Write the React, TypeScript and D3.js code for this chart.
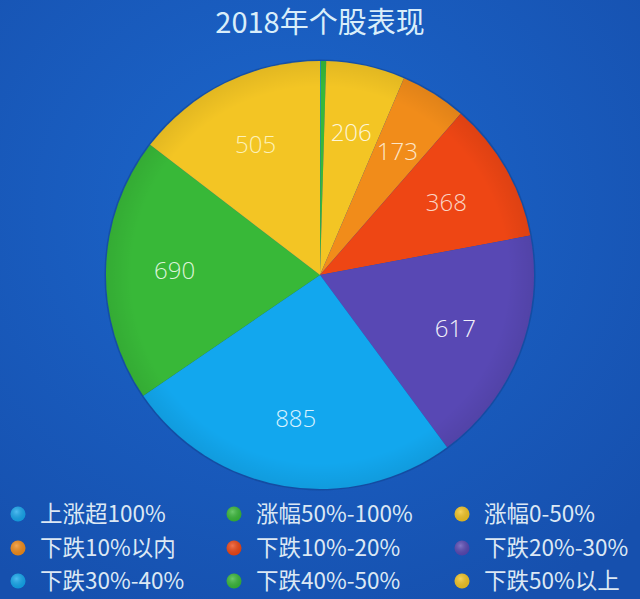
import * as d3 from 'd3'

// 2018 A-share performance buckets (stock counts)
const categories = [
  '上涨超100%',
  '涨幅50%-100%',
  '涨幅0-50%',
  '下跌10%以内',
  '下跌10%-20%',
  '下跌20%-30%',
  '下跌30%-40%',
  '下跌40%-50%',
  '下跌50%以上',
]
const values = [2, 14, 206, 173, 368, 617, 885, 690, 505]
const colors = [
  '#16a6ee',
  '#38b838',
  '#f3c524',
  '#f18c1a',
  '#ee4614',
  '#5848b4',
  '#12a7ee',
  '#38b838',
  '#f3c524',
]
const labelColors = [
  '#ffffff',
  '#ffffff',
  '#fdf6d8',
  '#fde6c8',
  '#fbd4c4',
  '#f2f0fa',
  '#d8f2ff',
  '#dcf4d8',
  '#fdf1b8',
]

const W = 640
const H = 599
const CX = 320
const CY = 275
const R = 214

interface Slice {
  name: string
  value: number
  color: string
  labelColor: string
}

export default function App() {
  const rows: Slice[] = categories.map((name, i) => ({
    name,
    value: values[i],
    color: colors[i],
    labelColor: labelColors[i],
  }))

  const pie = d3
    .pie<Slice>()
    .value((d) => d.value)
    .sort(null)
  const arcs = pie(rows)

  const arc = d3.arc<d3.PieArcDatum<Slice>>().innerRadius(0).outerRadius(R)
  const labelArc = d3
    .arc<d3.PieArcDatum<Slice>>()
    .innerRadius(R * 0.68)
    .outerRadius(R * 0.68)

  // legend grid: 3 columns x 3 rows
  const colX = d3.scaleOrdinal<number, number>().domain([0, 1, 2]).range([18, 234, 462])
  const rowY = d3.scaleOrdinal<number, number>().domain([0, 1, 2]).range([514, 548, 581])

  return (
    <div style={{ position: 'absolute', left: 0, top: 0, width: W, height: H }}>
      <svg width={W} height={H} viewBox={`0 0 ${W} ${H}`} style={{ display: 'block' }}>
        <defs>
          <radialGradient id="bg" cx="45%" cy="35%" r="75%">
            <stop offset="0%" stopColor="#1c67cd" />
            <stop offset="100%" stopColor="#1650ae" />
          </radialGradient>
          <radialGradient id="shade" cx="50%" cy="50%" r="50%">
            <stop offset="0%" stopColor="#000000" stopOpacity={0} />
            <stop offset="88%" stopColor="#000000" stopOpacity={0} />
            <stop offset="100%" stopColor="#000000" stopOpacity={0.07} />
          </radialGradient>
          <radialGradient id="dot" cx="40%" cy="35%" r="65%">
            <stop offset="0%" stopColor="#ffffff" stopOpacity={0.25} />
            <stop offset="100%" stopColor="#000000" stopOpacity={0.1} />
          </radialGradient>
        </defs>

        <rect width={W} height={H} fill="url(#bg)" />

        <text
          x={CX}
          y={33}
          textAnchor="middle"
          fontSize={29}
          fill="#d9eefa"
          fontFamily="'Noto Sans CJK SC', 'Noto Sans', sans-serif"
        >
          2018年个股表现
        </text>

        {/* pie shadow ring */}
        <circle cx={CX} cy={CY} r={R + 1.5} fill="#0f3f8c" opacity={0.5} />

        <g transform={`translate(${CX},${CY})`}>
          {arcs.map((a, i) => (
            <path key={i} d={arc(a) ?? ''} fill={a.data.color} />
          ))}
          <circle r={R} fill="url(#shade)" />
          {arcs
            .filter((a) => a.data.value > 50)
            .map((a, i) => {
              const [x, y] = labelArc.centroid(a)
              return (
                <text
                  key={i}
                  x={x}
                  y={y}
                  dy="0.35em"
                  textAnchor="middle"
                  fontSize={24}
                  fontWeight={300}
                  fill={a.data.labelColor}
                  fontFamily="'Open Sans', 'Liberation Sans', sans-serif"
                >
                  {a.data.value}
                </text>
              )
            })}
        </g>

        {/* legend */}
        {rows.map((d, i) => {
          const c = i % 3
          const r = Math.floor(i / 3)
          const x = colX(c)
          const y = rowY(r)
          return (
            <g key={d.name} transform={`translate(${x},${y})`}>
              <circle r={7.5} fill={d.color} />
              <circle r={7.5} fill="url(#dot)" />
              <text
                x={22}
                dy="0.36em"
                fontSize={22.5}
                fill="#dce8f4"
                fontFamily="'Noto Sans CJK SC', 'Noto Sans', sans-serif"
              >
                {d.name}
              </text>
            </g>
          )
        })}
      </svg>
    </div>
  )
}
